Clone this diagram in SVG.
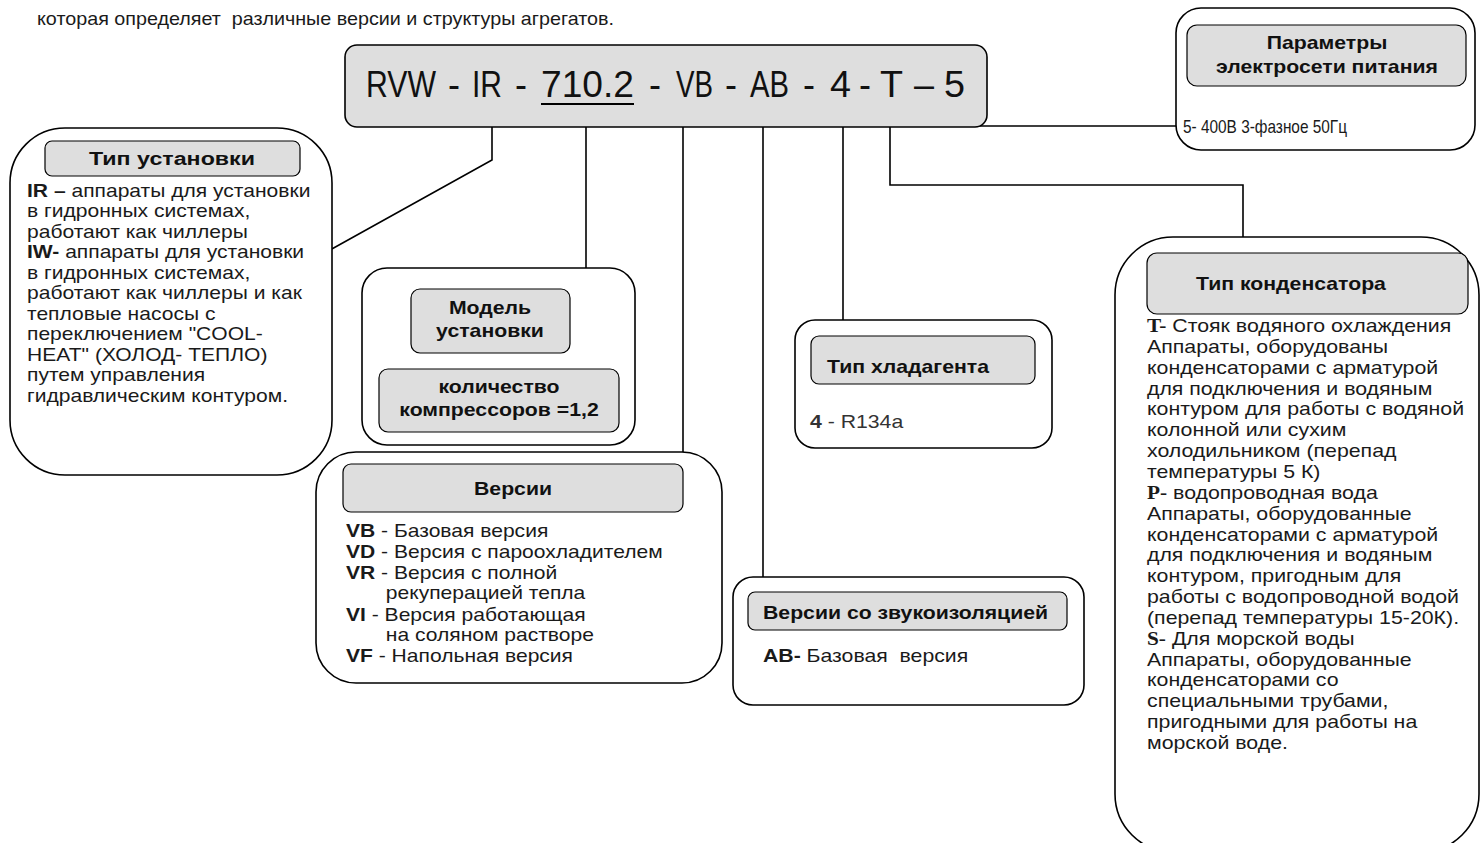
<svg xmlns="http://www.w3.org/2000/svg" width="1481" height="843" viewBox="0 0 1481 843">
<style>
.box{fill:#fff;stroke:#000;stroke-width:1.6}
.hdr{fill:#dedede;stroke:#000;stroke-width:1.2}
.t{font-family:"Liberation Sans",Arial,sans-serif;font-size:18px;fill:#1a1a1a}
.b{font-weight:bold}
.h{font-family:"Liberation Sans",Arial,sans-serif;font-size:18px;font-weight:bold;fill:#111}
.c{text-anchor:middle}
.ser{font-family:"Liberation Serif","Times New Roman",serif;font-weight:bold}
.ln{fill:none;stroke:#000;stroke-width:1.6}
.code{font-family:"Liberation Sans",Arial,sans-serif;font-size:36px;fill:#111}
</style>
<rect width="1481" height="843" fill="#fff"/>
<text x="37" y="25" class="t" style="font-size:18.5px" xml:space="preserve" textLength="577" lengthAdjust="spacingAndGlyphs">которая определяет  различные версии и структуры агрегатов.</text>

<g id="connectors">
<path class="ln" d="M492 127 V160 L330 250"/>
<path class="ln" d="M586 127 V268"/>
<path class="ln" d="M683 127 V462"/>
<path class="ln" d="M763 127 V577"/>
<path class="ln" d="M843 127 V320"/>
<path class="ln" d="M890 127 V185 H1243 V237"/>
<path class="ln" d="M955 112 V126 H1177"/>
</g>

<g id="code">
<rect x="345" y="45" width="642" height="82" rx="12" class="hdr" style="stroke-width:1.6"/>
<text class="code" x="366" y="97" textLength="70" lengthAdjust="spacingAndGlyphs">RVW</text>
<text class="code c" x="454" y="97">-</text>
<text class="code" x="472" y="97" textLength="30" lengthAdjust="spacingAndGlyphs">IR</text>
<text class="code c" x="521" y="97">-</text>
<text class="code" x="541" y="97" textLength="93" lengthAdjust="spacingAndGlyphs">710.2</text>
<text class="code c" x="655" y="97">-</text>
<text class="code" x="676" y="97" textLength="37" lengthAdjust="spacingAndGlyphs">VB</text>
<text class="code c" x="731" y="97">-</text>
<text class="code" x="750" y="97" textLength="39" lengthAdjust="spacingAndGlyphs">AB</text>
<text class="code c" x="809" y="97">-</text>
<text class="code" x="830" y="97" textLength="21" lengthAdjust="spacingAndGlyphs">4</text>
<text class="code c" x="865" y="97">-</text>
<text class="code" x="880" y="97" textLength="23" lengthAdjust="spacingAndGlyphs">T</text>
<text class="code c" x="924" y="97">–</text>
<text class="code" x="944" y="97" textLength="21" lengthAdjust="spacingAndGlyphs">5</text>
<line x1="541" y1="104" x2="634" y2="104" stroke="#000" stroke-width="2.2"/>
</g>

<g id="power">
<rect x="1176" y="8" width="299" height="142" rx="25" class="box"/>
<rect x="1187" y="25" width="279" height="61" rx="10" class="hdr"/>
<text transform="matrix(1.18 0 0 1 1327 0)" x="0" y="49" class="h c">Параметры</text>
<text transform="matrix(1.18 0 0 1 1327 0)" x="0" y="73" class="h c">электросети питания</text>
<text x="1183" y="133" class="t" style="font-size:19px" textLength="164" lengthAdjust="spacingAndGlyphs">5- 400В 3-фазное 50Гц</text>
</g>

<g id="install-type">
<rect x="10" y="128" width="322" height="347" rx="55" class="box"/>
<rect x="45" y="141" width="255" height="35" rx="7" class="hdr"/>
<text x="89" y="165" class="h" textLength="166" lengthAdjust="spacingAndGlyphs">Тип установки</text>
<text class="t" transform="matrix(1.17 0 0 1 27 0)">
<tspan x="0" y="197"><tspan class="b">IR –</tspan> аппараты для установки</tspan>
<tspan x="0" y="217.5">в гидронных системах,</tspan>
<tspan x="0" y="238">работают как чиллеры</tspan>
<tspan x="0" y="258.5"><tspan class="b">IW-</tspan> аппараты для установки</tspan>
<tspan x="0" y="279">в гидронных системах,</tspan>
<tspan x="0" y="299.5">работают как чиллеры и как</tspan>
<tspan x="0" y="320">тепловые насосы с</tspan>
<tspan x="0" y="340.5">переключением "COOL-</tspan>
<tspan x="0" y="361">HEAT" (ХОЛОД- ТЕПЛО)</tspan>
<tspan x="0" y="381.5">путем управления</tspan>
<tspan x="0" y="402">гидравлическим контуром.</tspan>
</text>
</g>

<g id="model">
<rect x="362" y="268" width="273" height="177" rx="25" class="box"/>
<rect x="411" y="289" width="159" height="64" rx="9" class="hdr"/>
<text transform="matrix(1.18 0 0 1 490 0)" x="0" y="314" class="h c">Модель</text>
<text transform="matrix(1.18 0 0 1 490 0)" x="0" y="337" class="h c">установки</text>
<rect x="379" y="369" width="240" height="63" rx="9" class="hdr"/>
<text transform="matrix(1.18 0 0 1 499 0)" x="0" y="393" class="h c">количество</text>
<text transform="matrix(1.18 0 0 1 499 0)" x="0" y="416" class="h c">компрессоров =1,2</text>
</g>

<g id="versions">
<rect x="316" y="452" width="406" height="231" rx="40" class="box"/>
<rect x="343" y="464" width="340" height="48" rx="8" class="hdr"/>
<text transform="matrix(1.18 0 0 1 513 0)" x="0" y="495" class="h c">Версии</text>
<text class="t" transform="matrix(1.17 0 0 1 346 0)">
<tspan x="0" y="537"><tspan class="b">VB</tspan> - Базовая версия</tspan>
<tspan x="0" y="558"><tspan class="b">VD</tspan> - Версия с пароохладителем</tspan>
<tspan x="0" y="579"><tspan class="b">VR</tspan> - Версия с полной</tspan>
<tspan x="34" y="599">рекуперацией тепла</tspan>
<tspan x="0" y="621"><tspan class="b">VI</tspan> - Версия работающая</tspan>
<tspan x="34" y="641">на соляном растворе</tspan>
<tspan x="0" y="662"><tspan class="b">VF</tspan> - Напольная версия</tspan>
</text>
</g>

<g id="refrigerant">
<rect x="795" y="320" width="257" height="128" rx="20" class="box"/>
<rect x="811" y="336" width="224" height="48" rx="8" class="hdr"/>
<text transform="matrix(1.18 0 0 1 827 0)" x="0" y="373" class="h">Тип хладагента</text>
<text transform="matrix(1.18 0 0 1 810 0)" x="0" y="428" class="t" style="fill:#333"><tspan class="b">4</tspan> - R134a</text>
</g>

<g id="sound">
<rect x="733" y="577" width="351" height="128" rx="20" class="box"/>
<rect x="748" y="592" width="319" height="38" rx="7" class="hdr"/>
<text transform="matrix(1.18 0 0 1 763 0)" x="0" y="619" class="h">Версии со звукоизоляцией</text>
<text transform="matrix(1.18 0 0 1 763 0)" x="0" y="662" class="t" xml:space="preserve"><tspan class="b">AB-</tspan> Базовая  версия</text>
</g>

<g id="condenser">
<rect x="1115" y="237" width="364" height="615" rx="58" class="box"/>
<rect x="1147" y="253" width="321" height="61" rx="10" class="hdr"/>
<text transform="matrix(1.18 0 0 1 1291 0)" x="0" y="290" class="h c">Тип конденсатора</text>
<text class="t" transform="matrix(1.185 0 0 1 1147 0)">
<tspan x="0" y="332"><tspan class="ser">T-</tspan> Стояк водяного охлаждения</tspan>
<tspan x="0" y="353">Аппараты, оборудованы</tspan>
<tspan x="0" y="374">конденсаторами с арматурой</tspan>
<tspan x="0" y="395">для подключения и водяным</tspan>
<tspan x="0" y="415.5">контуром для работы с водяной</tspan>
<tspan x="0" y="436.5">колонной или сухим</tspan>
<tspan x="0" y="457">холодильником (перепад</tspan>
<tspan x="0" y="478">температуры 5 К)</tspan>
<tspan x="0" y="499"><tspan class="ser">P-</tspan> водопроводная вода</tspan>
<tspan x="0" y="520">Аппараты, оборудованные</tspan>
<tspan x="0" y="541">конденсаторами с арматурой</tspan>
<tspan x="0" y="561.5">для подключения и водяным</tspan>
<tspan x="0" y="582.5">контуром, пригодным для</tspan>
<tspan x="0" y="603">работы с водопроводной водой</tspan>
<tspan x="0" y="624">(перепад температуры 15-20К).</tspan>
<tspan x="0" y="645"><tspan class="ser">S-</tspan> Для морской воды</tspan>
<tspan x="0" y="666">Аппараты, оборудованные</tspan>
<tspan x="0" y="686.5">конденсаторами со</tspan>
<tspan x="0" y="707.5">специальными трубами,</tspan>
<tspan x="0" y="728">пригодными для работы на</tspan>
<tspan x="0" y="749">морской воде.</tspan>
</text>
</g>
</svg>
